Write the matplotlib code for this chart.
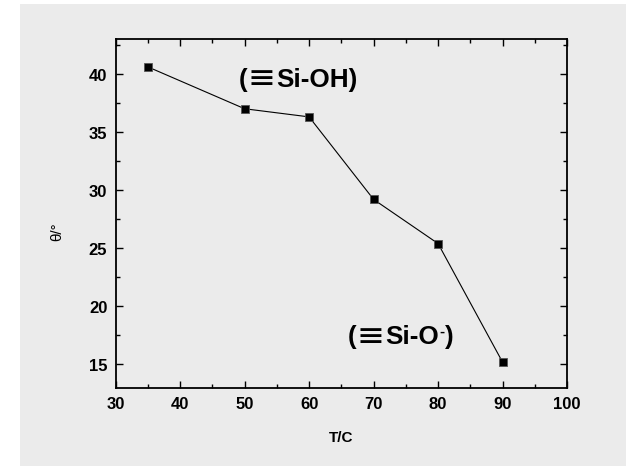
import matplotlib

matplotlib.use("Agg")

import matplotlib.pyplot as plt
from matplotlib.patches import Rectangle
from matplotlib.ticker import MultipleLocator

temperature = [35, 50, 60, 70, 80, 90]
theta = [40.6, 37.0, 36.3, 29.2, 25.4, 15.2]

GRAY = "#ebebeb"
FONTS = ["Liberation Sans", "DejaVu Sans"]

plt.rcParams["font.family"] = FONTS


def chained_label(ax, x, y, pieces, size=18.8):
    # pieces: (text, family, fontsize or None, rise in points, weight)
    first_text, first_family, _, _, first_weight = pieces[0]
    prev = ax.text(x, y, first_text, fontsize=size, fontweight=first_weight,
                   family=first_family, ha="left", va="baseline")
    for text, family, fsize, rise, weight in pieces[1:]:
        prev = ax.annotate(
            text, xy=(1, y), xycoords=(prev, "data"),
            xytext=(0.3, rise), textcoords="offset points",
            fontsize=fsize or size, fontweight=weight, family=family,
            ha="left", va="baseline",
        )


fig = plt.figure(figsize=(6.26, 4.77), dpi=100, facecolor="white")
fig.patches.append(
    Rectangle((20 / 626, 10 / 477), 606 / 626, 462 / 477,
              transform=fig.transFigure, facecolor=GRAY, edgecolor="none", zorder=-5)
)

ax = fig.add_axes((0.1848, 0.1851, 0.7210, 0.7310))
ax.set_facecolor(GRAY)
ax.plot(temperature, theta, color="black", linewidth=0.8, marker="s",
        markersize=5.5, markerfacecolor="black", markeredgecolor="#555555",
        markeredgewidth=0.6)

ax.set_xlim(30, 100)
ax.set_ylim(13, 43)
ax.xaxis.set_major_locator(MultipleLocator(10))
ax.xaxis.set_minor_locator(MultipleLocator(5))
ax.yaxis.set_major_locator(MultipleLocator(5))
ax.yaxis.set_minor_locator(MultipleLocator(2.5))
ax.tick_params(which="both", direction="in", top=True, right=True,
               width=1.0, colors="black")
ax.tick_params(which="major", length=5, labelsize=12, pad=6)
ax.tick_params(which="minor", length=3)
for label in ax.get_xticklabels() + ax.get_yticklabels():
    label.set_fontweight("bold")
for spine in ax.spines.values():
    spine.set_linewidth(1.3)

ax.set_xlabel("T/C", fontsize=11, fontweight="bold", labelpad=14)
ax.set_ylabel("θ/°", fontsize=11)
ax.yaxis.set_label_coords(-0.113, 0.45)

chained_label(ax, 49.1, 39.0, [
    ("(", FONTS, None, 0, "bold"),
    ("≡", ["DejaVu Sans"], 24, -1.3, "normal"),
    ("Si-OH)", FONTS, None, 0, "bold"),
])
chained_label(ax, 66.0, 16.85, [
    ("(", FONTS, None, 0, "bold"),
    ("≡", ["DejaVu Sans"], 24, -1.3, "normal"),
    ("Si-O", FONTS, None, 0, "bold"),
    ("-", FONTS, 11, 5.6, "bold"),
    (")", FONTS, None, 0, "bold"),
])

fig.savefig("out.png", dpi=100, facecolor="white")
